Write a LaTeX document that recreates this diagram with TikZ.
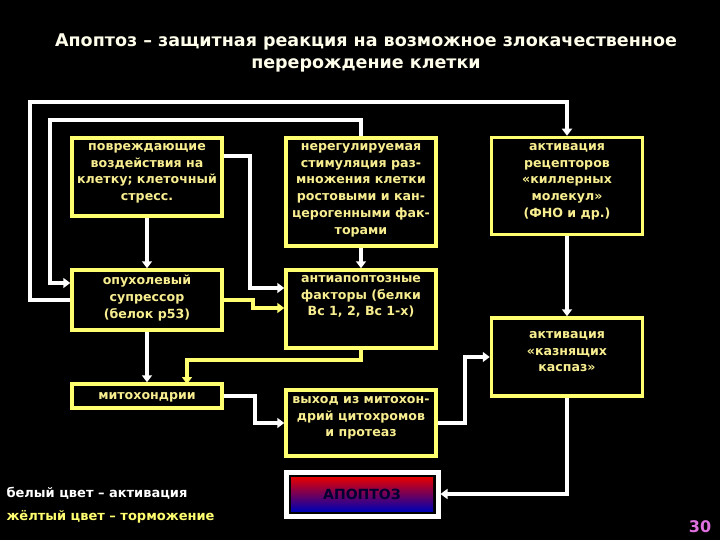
\documentclass[tikz,border=0pt]{standalone}
\usepackage{fontspec}
\setmainfont{DejaVu Sans}
\usetikzlibrary{arrows.meta}
\definecolor{bx}{HTML}{FFFF70}
\definecolor{tx}{HTML}{F8EE90}
\definecolor{pg}{HTML}{E070E0}
\begin{document}
\begin{tikzpicture}[x=1pt,y=-1pt,
  box/.style={draw=bx,line width=3.5pt,fill=black,anchor=center,inner sep=0pt},
  bt/.style={text=tx,font=\bfseries\fontsize{12.6}{16.8}\selectfont,align=center,anchor=north,inner sep=0pt},
  wa/.style={draw=white,line width=3.5pt,-{Triangle[width=10pt,length=7pt]}},
  ya/.style={draw=bx,line width=3.5pt,-{Triangle[width=10pt,length=7pt]}}]
\fill[black] (0,0) rectangle (720,540);
\node[text=white!92!yellow,font=\bfseries\fontsize{17.5}{22}\selectfont,align=center] (title) at (366,53) {Апоптоз – защитная реакция на возможное злокачественное\\перерождение клетки};
\node[box,minimum width=150pt,minimum height=78pt] (A) at (147,177) {};
\node[bt] (At) at (147,143) {повреждающие\\воздействия на\\клетку; клеточный\\стресс.};
\node[box,minimum width=150pt,minimum height=108pt] (B) at (361,192) {};
\node[bt] (Bt) at (361,143) {нерегулируемая\\стимуляция раз-\\множения клетки\\ростовыми и кан-\\церогенными фак-\\торами};
\node[box,minimum width=151pt,minimum height=97pt] (C) at (567,186) {};
\node[bt] (Ct) at (567,143) {активация\\рецепторов\\«киллерных\\молекул»\\(ФНО и др.)};
\node[box,minimum width=150pt,minimum height=60pt] (D) at (147,300) {};
\node[bt] (Dt) at (147,275) {опухолевый\\супрессор\\(белок р53)};
\node[box,minimum width=150pt,minimum height=78pt] (E) at (361,309) {};
\node[bt] (Et) at (361,275) {антиапоптозные\\факторы (белки\\Вс 1, 2, Вс 1-х)};
\node[box,minimum width=151pt,minimum height=78pt] (F) at (567,357) {};
\node[bt] (Ft) at (567,331) {активация\\«казнящих\\каспаз»};
\node[box,minimum width=150pt,minimum height=24pt] (G) at (147,396) {};
\node[bt,anchor=center] (Gt) at (147,397) {митохондрии};
\node[box,minimum width=150pt,minimum height=66pt] (H) at (361,423) {};
\node[bt] (Ht) at (361,396) {выход из митохон-\\дрий цитохромов\\и протеаз};
\node[draw=white,line width=5pt,minimum width=152pt,minimum height=44pt,anchor=center] (I) at (362,494) {};
\shade[top color=red!90!black,bottom color=blue!70!black] (291,477) rectangle (433,511);
\node[font=\bfseries\fontsize{14}{15}\selectfont,text=black!80!blue] (It) at (362,494) {АПОПТОЗ};
% connectors
\draw[wa] (D.west |- 0,300) -- (30,300) -- (30,102) -- (567,102) -- (C.north);
\draw[wa] (B.north) -- (361,120) -- (50,120) -- (50,283) -- (D.west |- 0,283);
\draw[wa] (A.east |- 0,156) -- (250,156) -- (250,288) -- (E.west |- 0,288);
\draw[ya] (D.east |- 0,300) -- (253,300) -- (253,308) -- (E.west |- 0,308);
\draw[wa] (A.south) -- (D.north);
\draw[wa] (B.south) -- (E.north);
\draw[wa] (C.south) -- (F.north);
\draw[ya] (E.south) -- (361,360) -- (187,360) -- (187,384);
\draw[wa] (D.south) -- (G.north);
\draw[wa] (G.east) -- (255,396) -- (255,423) -- (H.west);
\draw[wa] (H.east) -- (465,423) -- (465,357) -- (F.west);
\draw[wa] (F.south) -- (567,494) -- (I.east);
\node[text=white,font=\bfseries\fontsize{13}{14}\selectfont,anchor=west] (L1) at (3,493) {белый цвет – активация};
\node[text=bx,font=\bfseries\fontsize{13}{14}\selectfont,anchor=west] (L2) at (3,517) {жёлтый цвет – торможение};
\node[text=pg,font=\bfseries\fontsize{16}{17}\selectfont] (pn) at (700,527) {30};
\end{tikzpicture}
\end{document}
